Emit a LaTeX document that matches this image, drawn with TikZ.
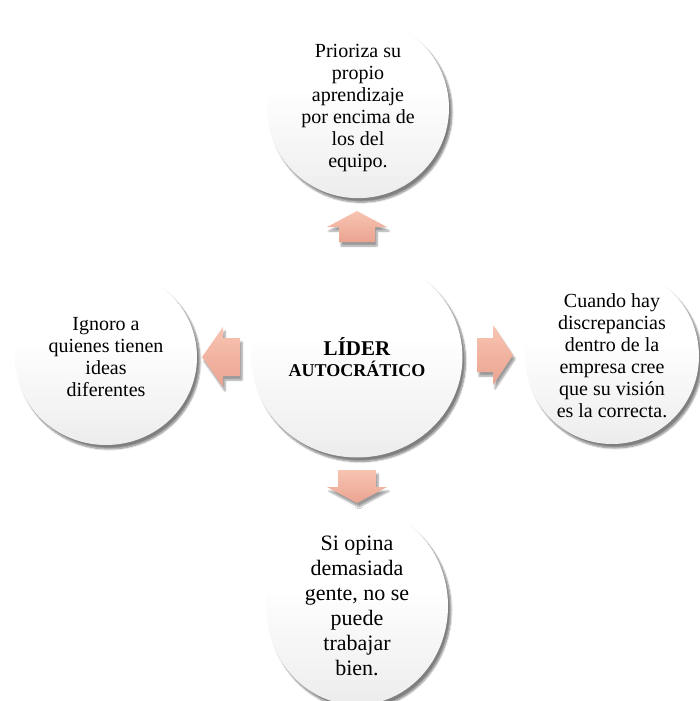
\documentclass[tikz,border=0pt]{standalone}
\usepackage{fontspec}
\setmainfont{Liberation Serif}
\usetikzlibrary{shapes.geometric,shadows.blur}

\definecolor{peachlight}{RGB}{248,196,178}
\definecolor{peachdark}{RGB}{234,164,144}
\pgfdeclareverticalshading{bubble}{100bp}{color(0bp)=(black!15); color(30bp)=(black!6); color(55bp)=(white); color(100bp)=(white)}

\tikzset{
  idea/.style={ellipse, minimum width=182pt, minimum height=176pt, inner sep=0pt,
    shading=bubble, align=center,
    font=\fontsize{20}{22}\selectfont,
    blur shadow={shadow xshift=3pt, shadow yshift=-4pt, shadow opacity=50, shadow blur steps=8}},
  blockarrow/.style={top color=peachlight, bottom color=peachdark,
    blur shadow={shadow xshift=2pt, shadow yshift=-4pt, shadow opacity=40, shadow blur steps=6}}
}

\begin{document}
\begin{tikzpicture}[x=1pt,y=-1pt]
  \useasboundingbox (0,0) rectangle (699,701);

  %Center
  \node[idea, minimum width=211pt, minimum height=201pt] (lider) at (357,357)
    {\bfseries\fontsize{21}{20}\selectfont LÍDER\\[-1pt]\bfseries\fontsize{18}{20}\selectfont AUTOCRÁTICO};

  %Outer ideas
  \node[idea] (prioriza) at (358,108) {Prioriza su\\propio\\aprendizaje\\por encima de\\los del\\equipo.};
  \node[idea, minimum width=174pt] (cuando) at (612,356) {Cuando hay\\discrepancias\\dentro de la\\empresa cree\\que su visión\\es la correcta.};
  \node[idea] (ignoro) at (106,357) {Ignoro a\\quienes tienen\\ideas\\diferentes};
  \node[idea, font=\fontsize{22}{25}\selectfont] (opina) at (357,606) {Si opina\\demasiada\\gente, no se\\puede\\trabajar\\bien.};

  %Arrows
  \path[blockarrow] (339,242) -- (339,227) -- (327,227) -- (357,211) -- (387,227) -- (375,227) -- (375,242) -- cycle;
  \path[blockarrow] (338,470) -- (376,470) -- (376,487) -- (387,487) -- (357,503) -- (327,487) -- (338,487) -- cycle;
  \path[blockarrow] (240,338) -- (223,338) -- (223,327) -- (202,357) -- (223,387) -- (223,376) -- (240,376) -- cycle;
  \path[blockarrow] (477,338) -- (493,338) -- (493,325) -- (513,355) -- (493,385) -- (493,372) -- (477,372) -- cycle;
\end{tikzpicture}
\end{document}
